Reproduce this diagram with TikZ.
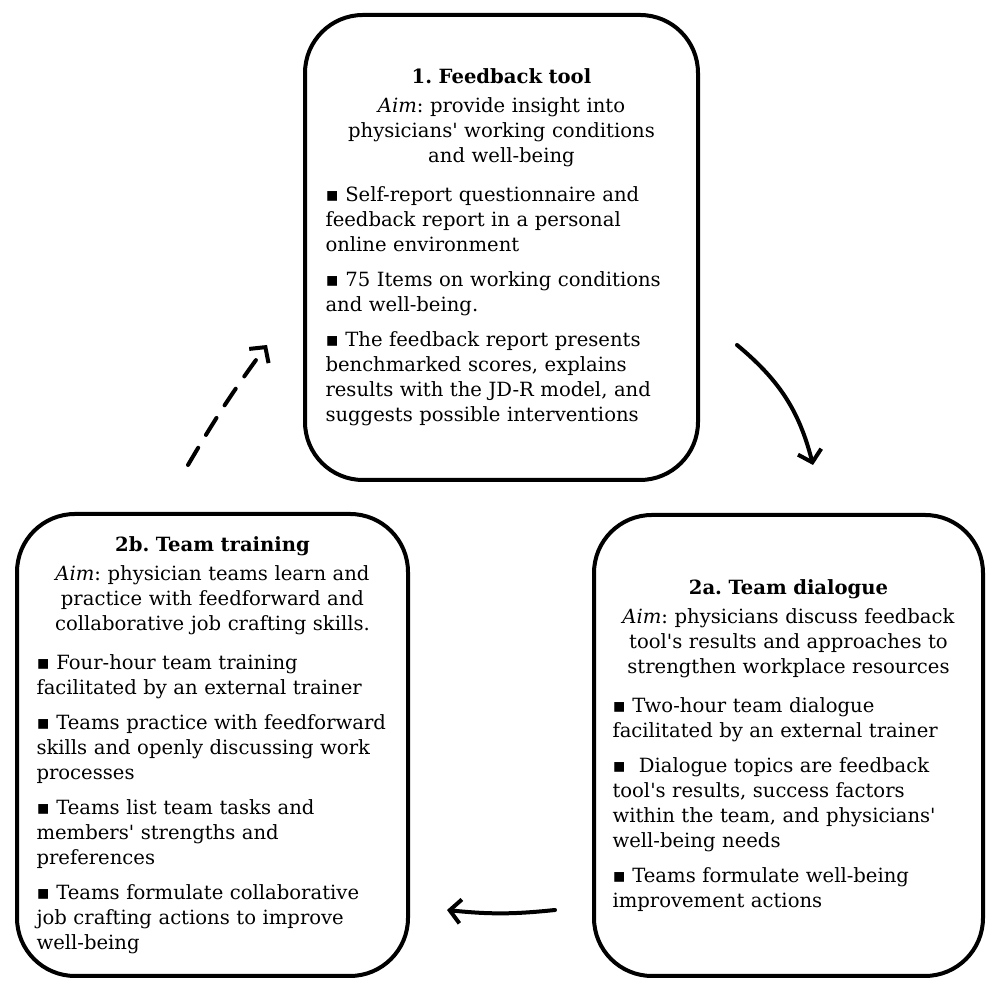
\documentclass[tikz,border=0pt]{standalone}
\usepackage{fontspec}
\setmainfont{DejaVu Serif}[Ligatures=TeXOff]
\newfontfamily\symfont{DejaVu Sans}
\usetikzlibrary{arrows.meta}

\newcommand{\stagefont}{\fontsize{19.6}{25}\selectfont\frenchspacing}
\newcommand{\bul}{{\symfont ▪}\ }

\tikzset{
  stagebox/.style={draw, line width=4pt, rounded corners=58pt,
    text width=352pt, align=left, inner sep=0pt, font=\stagefont},
  flowarrow/.style={line width=4pt, line cap=round,
    -{Straight Barb[length=11pt,width=24pt]}}
}

\begin{document}
\begin{tikzpicture}[x=1pt,y=1pt]
        \useasboundingbox (0,0) rectangle (986,981);

        % the three stages
        \node [stagebox, minimum width=393pt, minimum height=465pt]
        (tool) at (501.5,733.5) {%
          {\centering\textbf{1. Feedback tool}\\[4pt]
            \textit{Aim}: provide insight into\\
            physicians' working conditions\\
            and well-being\par}
          \vspace{14pt}
          \bul Self-report questionnaire and\\
          feedback report in a personal\\
          online environment\par
          \vspace{10pt}
          \bul 75 Items on working conditions\\
          and well-being.\par
          \vspace{10pt}
          \bul The feedback report presents\\
          benchmarked scores, explains\\
          results with the JD-R model, and\\
          suggests possible interventions};

        \node [stagebox, minimum width=389pt, minimum height=461pt]
        (dialogue) at (788.5,235.5) {%
          {\centering\textbf{2a. Team dialogue}\\[4pt]
            \textit{Aim}: physicians discuss feedback\\
            tool's results and approaches to\\
            strengthen workplace resources\par}
          \vspace{14pt}
          \bul Two-hour team dialogue\\
          facilitated by an external trainer\par
          \vspace{10pt}
          \bul\ Dialogue topics are feedback\\
          tool's results, success factors\\
          within the team, and physicians'\\
          well-being needs\par
          \vspace{10pt}
          \bul Teams formulate well-being\\
          improvement actions};

        \node [stagebox, minimum width=391pt, minimum height=462pt]
        (training) at (212.5,236) {%
          {\centering\textbf{2b. Team training}\\[4pt]
            \textit{Aim}: physician teams learn and\\
            practice with feedforward and\\
            collaborative job crafting skills.\par}
          \vspace{14pt}
          \bul Four-hour team training\\
          facilitated by an external trainer\par
          \vspace{10pt}
          \bul Teams practice with feedforward\\
          skills and openly discussing work\\
          processes\par
          \vspace{10pt}
          \bul Teams list team tasks and\\
          members' strengths and\\
          preferences\par
          \vspace{10pt}
          \bul Teams formulate collaborative\\
          job crafting actions to improve\\
          well-being};

        % free ends of the connectors
        \coordinate (toolout) at (737,636);
        \coordinate (dialoguein) at (813,516);
        \coordinate (dialogueout) at (555,71);
        \coordinate (trainingin) at (447,71);
        \coordinate (trainingout) at (188,516);
        \coordinate (toolin) at (267,636);

        \draw [flowarrow] (toolout) to [bend left=18] (dialoguein);
        \draw [flowarrow] (dialogueout) to [bend left=6] (trainingin);
        \draw [flowarrow, dash pattern=on 20pt off 15pt]
        (trainingout) to [bend left=3] (toolin);
      \end{tikzpicture}
\end{document}
